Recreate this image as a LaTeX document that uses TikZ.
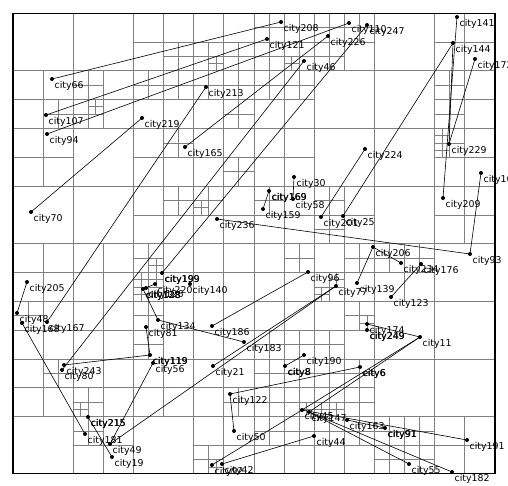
\documentclass[tikz,border=0pt]{standalone}
\usepackage{fontspec}
\setmainfont{DejaVu Sans}
\definecolor{gridgray}{RGB}{128,128,128}

\begin{document}
\begin{tikzpicture}[x=1pt,y=-1pt,
  cellline/.style={draw=gridgray, line width=0.9pt},
  road/.style={draw=black, line width=0.6pt},
  city/.style={circle, fill=black, inner sep=0pt, minimum size=4pt},
  citylabel/.style={anchor=base west, inner sep=0pt, font=\fontsize{9.4}{10}\selectfont}]
  \useasboundingbox (0,0) rectangle (508,486);
  % quadtree cells that are split: i/j/s in 1/64 of the box
  \foreach \i/\j/\s in {0/0/64,
      0/0/32, 32/0/32, 0/32/32, 32/32/32,
      0/0/16, 16/0/16, 0/16/16, 16/16/16, 32/0/16, 48/0/16, 32/16/16, 48/16/16,
      0/32/16, 16/32/16, 0/48/16, 16/48/16, 32/32/16, 48/32/16, 32/48/16, 48/48/16,
      0/8/8, 8/8/8, 0/16/8, 16/0/8, 24/0/8, 16/8/8, 24/8/8, 16/16/8, 24/16/8, 16/24/8, 24/24/8,
      4/12/4, 8/8/4, 8/12/4, 10/12/2, 20/4/4, 24/4/4, 26/6/2, 28/4/4, 16/8/4, 20/8/4, 24/8/4,
      28/8/4, 28/12/4, 20/16/4, 28/20/4, 20/24/4, 24/24/4, 24/26/2,
      32/0/8, 40/0/8, 32/8/8, 56/0/8, 56/8/8, 32/16/8, 32/24/8, 40/24/8, 56/16/8, 56/24/8,
      32/0/4, 36/0/4, 32/4/4, 36/4/4, 36/6/2, 40/0/4, 44/0/4, 40/4/4, 32/8/4, 36/8/4,
      56/8/4, 56/12/4, 56/16/4, 56/16/2, 56/18/2, 32/24/4, 40/24/4, 40/28/4,
      0/32/8, 8/32/8, 0/40/8, 8/40/8, 0/48/8, 8/48/8, 8/56/8, 16/32/8, 24/32/8, 16/40/8,
      24/40/8, 16/48/8, 24/48/8, 24/56/8,
      0/40/4, 4/48/4, 8/52/4, 8/54/2, 8/56/4, 16/32/4, 16/36/4, 16/36/2, 18/36/2, 16/38/2,
      18/34/2, 16/40/4, 16/44/4, 24/60/4, 26/62/2, 28/52/4,
      32/32/8, 40/32/8, 32/40/8, 40/40/8, 32/48/8, 40/48/8, 32/56/8, 40/56/8, 48/32/8,
      48/56/8, 56/56/8,
      36/32/4, 40/36/4, 44/32/4, 44/40/4, 32/44/4, 36/44/4, 40/44/4, 32/48/4, 36/48/4,
      40/48/4, 44/48/4, 32/52/4, 36/52/4, 40/52/4, 44/52/4, 32/56/4, 36/56/4, 40/56/4,
      44/56/4, 48/56/4, 52/56/4, 48/60/4, 52/60/4,
      48/32/4, 52/32/4, 46/42/2, 38/54/2, 40/54/2, 42/54/2, 42/36/2, 40/38/2}{
    \draw[cellline] ({13+7.53125*(\i+\s/2)},{13.3+7.2031*\j}) -- ++(0,{7.2031*\s});
    \draw[cellline] ({13+7.53125*\i},{13.3+7.2031*(\j+\s/2)}) -- ++({7.53125*\s},0);
  }
  \draw[line width=1.2pt] (13,13.3) rectangle (495,473.6);
  % cities
  \foreach \n/\x/\y in {208/281/22, 121/267/39, 226/328/36, 110/349/23, 247/367/25,
      46/304/61, 141/457/17, 144/453/43, 172/475/59, 229/449/144, 66/52/79, 107/46/115,
      94/47/134, 213/206/87, 219/142/118, 165/185/147, 224/365/149, 30/294/177,
      169/269/191, 58/293/199, 159/263/209, 201/321/217, 25/343/216, 236/217/219,
      160/481/173, 209/443/198, 93/470/254, 206/373/247, 234/401/263, 176/421/264,
      139/357/283, 123/391/297, 96/308/272, 77/336/286, 70/31/212, 205/27/282,
      48/17/313, 168/22/323, 167/47/322, 199/162/273, 220/155/284, 140/190/284,
      128/143/289, 126/146/288, 134/158/320, 81/146/327, 186/212/326, 183/244/342,
      119/150/355, 56/153/363, 21/213/366, 243/64/365, 80/62/370, 122/230/394,
      50/234/431, 92/212/465, 42/222/464, 215/88/417, 181/85/434, 49/110/444,
      19/112/457, 190/304/355, 8/285/366, 6/360/367, 174/367/324, 249/367/330,
      11/420/337, 44/314/436, 45/302/410, 147/309/412, 163/347/420, 91/385/428,
      191/467/440, 55/409/464, 182/452/472}{
    \node[city] (c\n) at (\x,\y) {};
  }
  % roads
  \foreach \a/\b in {66/208, 107/121, 94/110, 165/226, 213/167, 219/70, 80/46, 199/247,
      201/224, 25/144, 141/209, 144/229, 172/229, 160/93, 236/93, 206/139, 206/234,
      176/123, 30/58, 169/159, 96/186, 21/77, 134/183, 81/119, 243/119, 56/49, 205/48,
      168/181, 49/77, 11/174, 11/45, 147/11, 190/8, 122/6, 122/50, 92/45, 42/44, 45/191,
      147/55, 147/182, 163/91, 128/134, 128/220, 215/19}
    \draw[road] (c\a.center) -- (c\b.center);
  % labels
  \foreach \n in {208, 121, 226, 110, 247, 46, 141, 144, 172, 229, 66, 107, 94, 213,
      219, 165, 224, 30, 169, 58, 159, 201, 25, 236, 160, 209, 93, 206, 234, 176, 139,
      123, 96, 77, 70, 205, 48, 168, 167, 199, 220, 140, 128, 126, 134, 81, 186, 183,
      119, 56, 21, 243, 80, 122, 50, 92, 42, 215, 181, 49, 19, 190, 8, 6, 174, 249, 11,
      44, 45, 147, 163, 91, 191, 55, 182}
    \node[citylabel] at ([xshift=2.5pt,yshift=-9.5pt]c\n.center) {city\n};
  % labels drawn twice in the reference look heavier
  \foreach \n in {199, 128, 119, 215, 8, 6, 249, 91, 169}
    \node[citylabel] at ([xshift=2.8pt,yshift=-9.5pt]c\n.center) {city\n};
\end{tikzpicture}
\end{document}
